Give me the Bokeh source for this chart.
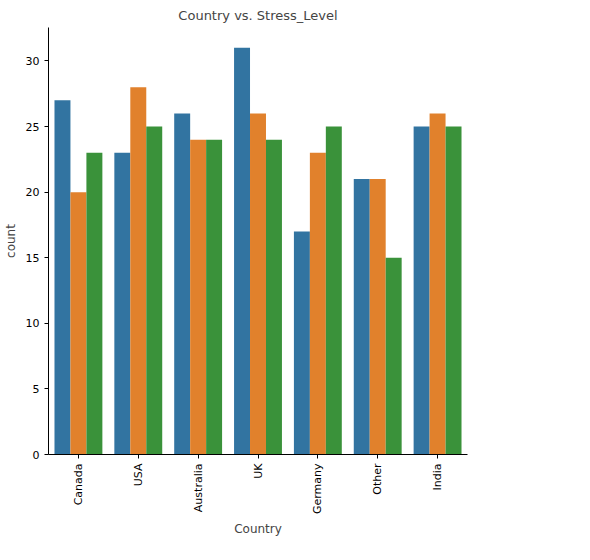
from bokeh.plotting import figure
from bokeh.models import Legend, Range1d, FixedTicker
from bokeh.embed import file_html
from bokeh.resources import INLINE

countries = ["Canada", "USA", "Australia", "UK", "Germany", "Other", "India"]
levels = ["Medium", "Low", "High"]
medium = [27, 23, 26, 31, 17, 21, 25]
low = [20, 28, 24, 26, 23, 21, 26]
high = [23, 25, 24, 24, 25, 15, 25]
colors = ["#3274a1", "#e1812c", "#3a923a"]

p = figure(frame_width=419, frame_height=427, output_backend="svg", toolbar_location=None,
           title="Country vs. Stress_Level",
           x_range=Range1d(-0.5, len(countries) - 0.5), y_range=Range1d(0, 32.55),
           min_border_left=10, min_border_right=10, min_border_top=4, min_border_bottom=10)
p.title.align = "center"
p.title.text_font_size = "13px"
p.title.text_font_style = "normal"
p.title.text_font = "DejaVu Sans"
p.outline_line_color = None
p.grid.visible = False

w = 0.8 / 3
items = []
for k, (name, vals) in enumerate(zip(levels, [medium, low, high])):
    xs = [i + (k - 1) * w for i in range(len(countries))]
    r = p.vbar(x=xs, top=vals, width=w, color=colors[k], line_color=None)
    items.append((name, [r]))

p.xaxis.ticker = FixedTicker(ticks=list(range(len(countries))))
p.xaxis.major_label_overrides = {i: c for i, c in enumerate(countries)}
p.xaxis.major_label_orientation = 1.5708
p.yaxis.ticker = FixedTicker(ticks=[0, 5, 10, 15, 20, 25, 30])
p.xaxis.axis_label = "Country"
p.yaxis.axis_label = "count"
for ax in (p.xaxis, p.yaxis):
    ax.axis_label_text_font_style = "normal"
    ax.axis_label_text_font_size = "12px"
    ax.axis_label_text_font = "DejaVu Sans"
    ax.major_label_text_font_size = "11px"
    ax.major_label_text_font = "DejaVu Sans"
    ax.minor_tick_line_color = None
    ax.major_tick_out = 4
    ax.major_tick_in = 0
    ax.axis_line_color = "black"
    ax.major_label_text_color = "black"

legend = Legend(items=items, title="Stress_Level", location="center",
                border_line_color=None, background_fill_alpha=0,
                label_text_font_size="12px", title_text_font_size="12px",
                title_text_font_style="normal",
                label_text_font="DejaVu Sans", title_text_font="DejaVu Sans",
                glyph_width=26, glyph_height=10, spacing=4, margin=4, padding=4)
p.add_layout(legend, "right")

open("out.html", "w").write(file_html(p, INLINE))
